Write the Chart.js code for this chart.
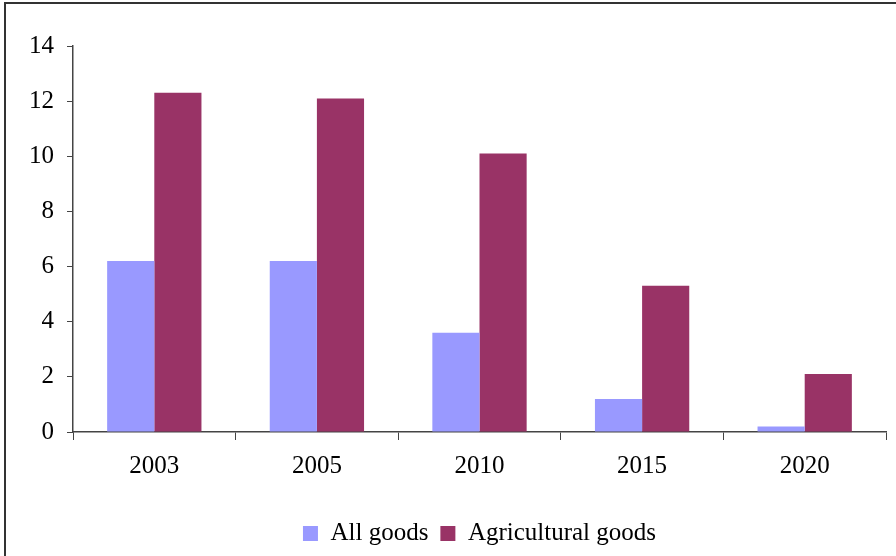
<!DOCTYPE html>
<html>
<head>
<meta charset="utf-8">
<script src="https://cdn.jsdelivr.net/npm/chart.js@4"></script>
<style>
  body { margin: 0; background: #fff; overflow: hidden; }
  #frame {
    position: absolute; left: 4px; top: 2px; width: 920px; height: 580px;
    border-left: 2px solid #333; border-top: 2px solid #333;
  }
  #wrap { position: absolute; left: 0; top: 0; width: 896px; height: 556px; }
</style>
</head>
<body>
<div id="frame"></div>
<div id="wrap"><canvas id="myChart" width="896" height="556"></canvas></div>
<script>
const years = ["2003", "2005", "2010", "2015", "2020"];
const allGoods = [6.2, 6.2, 3.6, 1.2, 0.2];
const agriGoods = [12.3, 12.1, 10.1, 5.3, 2.1];
const yTicks = [0, 2, 4, 6, 8, 10, 12, 14];

const font = { family: "'Liberation Serif', 'Times New Roman', serif", size: 25 };

new Chart(document.getElementById("myChart").getContext("2d"), {
  type: "bar",
  data: {
    labels: years,
    datasets: [
      { label: "All goods", data: allGoods, backgroundColor: "#9999FF" },
      { label: "Agricultural goods", data: agriGoods, backgroundColor: "#993366" },
    ],
  },
  options: {
    responsive: false,
    animation: false,
    layout: { padding: { top: 46, right: 10, left: 0, bottom: 0 } },
    datasets: { bar: { categoryPercentage: 0.58, barPercentage: 1 } },
    plugins: {
      tooltip: { enabled: false },
      legend: {
        position: "bottom",
        fullSize: false,
        labels: {
          font: font,
          color: "#000",
          boxWidth: 15,
          boxHeight: 15,
          padding: 12,
        },
      },
    },
    scales: {
      x: {
        grid: { drawOnChartArea: false, tickLength: 8, color: "#444", offset: true },
        border: { color: "#444", width: 1.5 },
        ticks: { font: font, color: "#000", padding: 11 },
        afterFit: (scale) => { scale.height = 77; },
      },
      y: {
        min: 0,
        max: 14,
        afterBuildTicks: (scale) => { scale.ticks = yTicks.map((v) => ({ value: v })); },
        grid: { drawOnChartArea: false, tickLength: 6, color: "#444" },
        border: { color: "#444", width: 1.5 },
        ticks: { font: font, color: "#000", padding: 13 },
        afterFit: (scale) => { scale.width = 73; },
      },
    },
  },
});
</script>
</body>
</html>
